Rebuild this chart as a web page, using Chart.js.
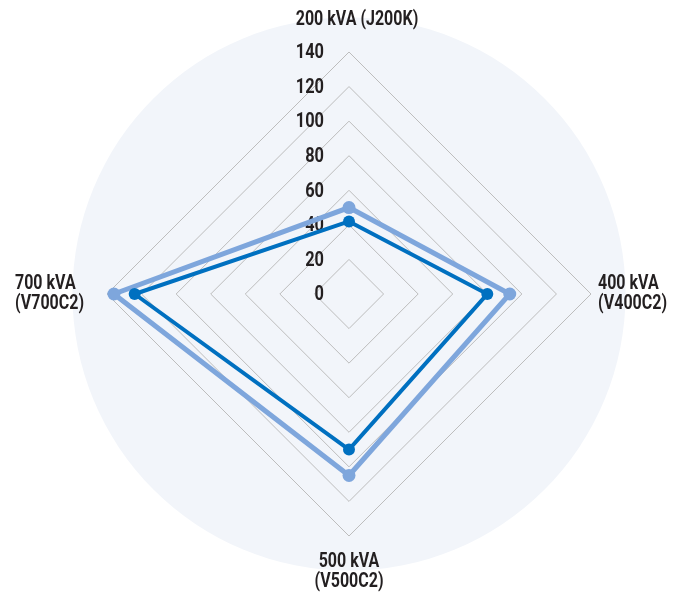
<!DOCTYPE html>
<html>
<head>
<meta charset="utf-8">
<script src="https://cdn.jsdelivr.net/npm/chart.js@4"></script>
<style>
  html, body { margin: 0; padding: 0; background: #fff; }
  #wrap { width: 682px; height: 594px; position: relative; }
</style>
</head>
<body>
<div id="wrap"><canvas id="radar"></canvas></div>
<script>
// ── DATA ──
const categories = [
    ['200 kVA (J200K)'],
    ['400 kVA', '(V400C2)'],
    ['500 kVA', '(V500C2)'],
    ['700 kVA', '(V700C2)']
];
const seriesDark  = [42, 80, 90, 124];
const seriesLight = [50, 93, 105, 136];
const tickValues  = [0, 20, 40, 60, 80, 100, 120, 140];

// ── STYLE ──
const FONT = "Roboto, 'Liberation Sans', sans-serif";
const TEXT = '#231f20';
const labelPad = [22, 7, 16, 23];   // distance outside the outer ring, per axis

// condensed text: squeeze x around the anchor point (the original face is condensed)
function narrowText(ctx, t, x, y, align, sx) {
    ctx.save();
    ctx.translate(x, y);
    ctx.scale(sx, 1);
    ctx.textAlign = align;
    ctx.fillText(t, 0, 0);
    ctx.restore();
}

// light circle behind the grid
const bgCircle = {
    id: 'bgCircle',
    beforeDraw(chart) {
        const r = chart.scales.r;
        const ctx = chart.ctx;
        ctx.save();
        ctx.beginPath();
        ctx.arc(r.xCenter, r.yCenter, r.getDistanceFromCenterForValue(160), 0, Math.PI * 2);
        ctx.fillStyle = '#f2f5fa';
        ctx.fill();
        ctx.restore();
    }
};

// tick numbers, set a little left of the vertical axis
const tickText = {
    id: 'tickText',
    beforeDatasetsDraw(chart) {
        const r = chart.scales.r;
        const ctx = chart.ctx;
        ctx.save();
        ctx.font = 'bold 21px ' + FONT;
        ctx.fillStyle = TEXT;
        ctx.textBaseline = 'middle';
        tickValues.forEach(v => {
            narrowText(ctx, String(v), r.xCenter - 25, r.yCenter - r.getDistanceFromCenterForValue(v) + 1, 'right', 0.78);
        });
        ctx.restore();
    }
};

// axis names round the outside
const axisText = {
    id: 'axisText',
    afterDraw(chart) {
        const r = chart.scales.r;
        const ctx = chart.ctx;
        const lh = 20, sx = 0.8;
        ctx.save();
        ctx.font = 'bold 20px ' + FONT;
        ctx.fillStyle = TEXT;
        ctx.textBaseline = 'middle';
        categories.forEach((lines, i) => {
            const p = r.getPointPosition(i, r.drawingArea + labelPad[i]);
            const h = lines.length * lh;
            const w = Math.max(...lines.map(t => ctx.measureText(t).width)) * sx;
            let x = p.x, y0, align = 'left';
            if (i === 0)      { align = 'center'; x = p.x + 8; y0 = p.y - h; }
            else if (i === 2) { align = 'center'; y0 = p.y; }
            else if (i === 1) { y0 = p.y - h / 2; }
            else              { x = p.x - w; y0 = p.y - h / 2; }
            lines.forEach((t, k) => narrowText(ctx, t, x, y0 + lh * k + lh / 2, align, sx));
        });
        ctx.restore();
    }
};

// ── CHART ──
new Chart(document.getElementById('radar'), {
    type: 'radar',
    data: {
        labels: categories,
        datasets: [
            {
                label: 'Series 1',
                data: seriesDark,
                borderColor: '#0070c0',
                backgroundColor: 'rgba(0,0,0,0)',
                pointBackgroundColor: '#0070c0',
                pointBorderColor: '#0070c0',
                borderWidth: 4, pointRadius: 6, pointBorderWidth: 0, fill: false
            },
            {
                label: 'Series 2',
                data: seriesLight,
                borderColor: '#7ea6dc',
                backgroundColor: 'rgba(0,0,0,0)',
                pointBackgroundColor: '#7ea6dc',
                pointBorderColor: '#7ea6dc',
                borderWidth: 5, pointRadius: 6.5, pointBorderWidth: 0, fill: false
            }
        ]
    },
    options: {
        responsive: true,
        maintainAspectRatio: false,
        animation: false,
        layout: { padding: { left: 106, right: 90, top: 52, bottom: 57 } },
        plugins: { legend: { display: false }, tooltip: { enabled: false } },
        elements: { line: { tension: 0 } },
        scales: {
            r: {
                min: 0, max: 140,
                ticks: { stepSize: 20, display: false },
                grid: { color: '#bdbdbd', lineWidth: 1 },
                angleLines: { display: false },
                pointLabels: { display: false }
            }
        }
    },
    plugins: [bgCircle, tickText, axisText]
});
</script>
</body>
</html>
